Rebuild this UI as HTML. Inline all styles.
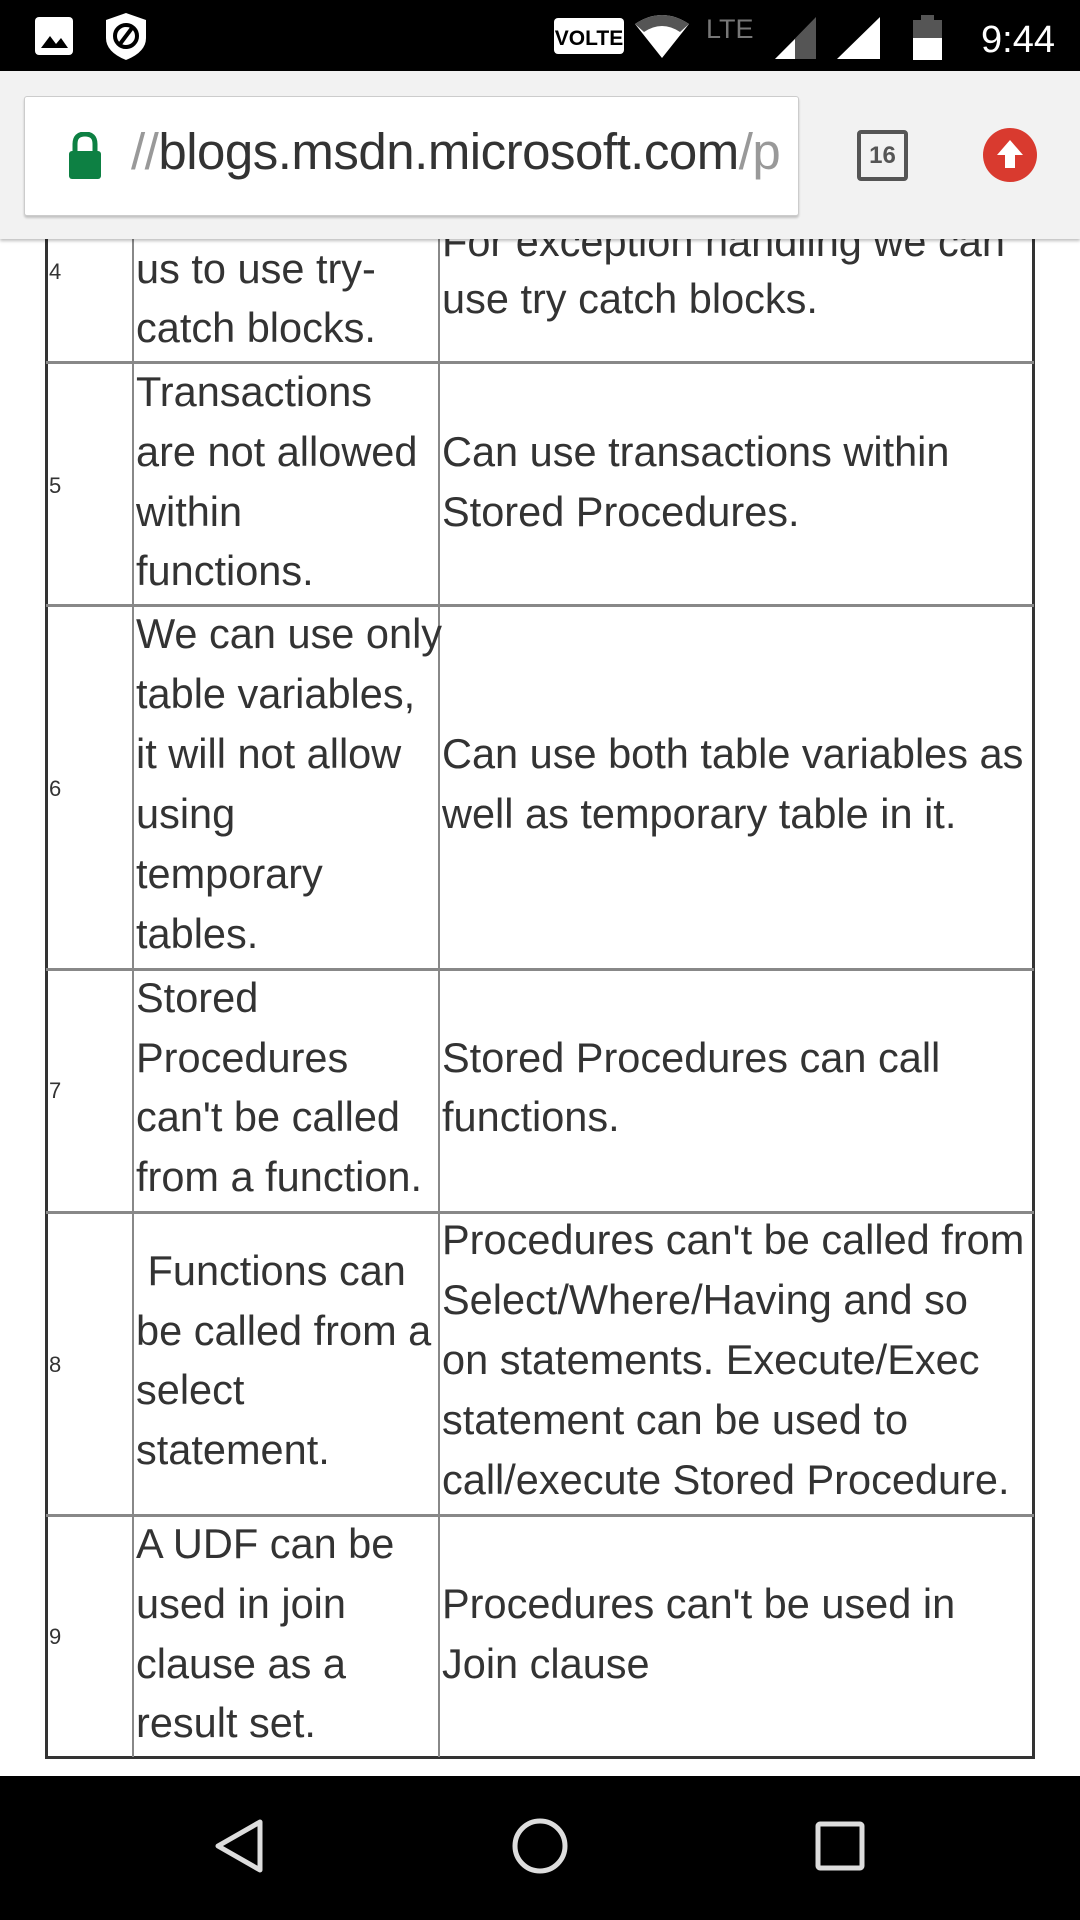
<!DOCTYPE html>
<html><head><meta charset="utf-8"><style>
*{margin:0;padding:0;box-sizing:border-box}
body{width:1080px;height:1920px;background:#fff;position:relative;overflow:hidden;font-family:"Liberation Sans",sans-serif;color:#333}
.l{position:absolute;height:60px;line-height:60px;font-size:41.5px;white-space:nowrap}
.n{position:absolute;font-size:22px;color:#333;height:30px;line-height:30px}
.h{position:absolute;background:#888;height:3px;left:46px;width:988px}
.v{position:absolute;background:#888;width:2px}
</style></head><body>
<div style="position:absolute;left:45px;top:150px;width:990px;height:1609px;border:3px solid #333;border-top:none"></div>
<div class="v" style="left:132px;top:150px;height:1607px"></div>
<div class="v" style="left:438px;top:150px;height:1607px"></div>
<div class="h" style="top:361px"></div>
<div class="h" style="top:604px"></div>
<div class="h" style="top:968px"></div>
<div class="h" style="top:1211px"></div>
<div class="h" style="top:1514px"></div>

<div class="n" style="left:49px;top:257px">4</div>
<div class="l" style="left:136px;top:181px">not allow</div>
<div class="l" style="left:136px;top:239px">us to use try-</div>
<div class="l" style="left:136px;top:298px">catch blocks.</div>
<div class="l" style="left:442px;top:212px">For exception handling we can</div>
<div class="l" style="left:442px;top:269px">use try catch blocks.</div>

<div class="n" style="left:49px;top:471px">5</div>
<div class="l" style="left:136px;top:362px">Transactions</div>
<div class="l" style="left:136px;top:422px">are not allowed</div>
<div class="l" style="left:136px;top:482px">within</div>
<div class="l" style="left:136px;top:541px">functions.</div>
<div class="l" style="left:442px;top:422px">Can use transactions within</div>
<div class="l" style="left:442px;top:482px">Stored Procedures.</div>

<div class="n" style="left:49px;top:774px">6</div>
<div class="l" style="left:136px;top:604px">We can use only</div>
<div class="l" style="left:136px;top:664px">table variables,</div>
<div class="l" style="left:136px;top:724px">it will not allow</div>
<div class="l" style="left:136px;top:784px">using</div>
<div class="l" style="left:136px;top:844px">temporary</div>
<div class="l" style="left:136px;top:904px">tables.</div>
<div class="l" style="left:442px;top:724px">Can use both table variables as</div>
<div class="l" style="left:442px;top:784px">well as temporary table in it.</div>

<div class="n" style="left:49px;top:1076px">7</div>
<div class="l" style="left:136px;top:968px">Stored</div>
<div class="l" style="left:136px;top:1028px">Procedures</div>
<div class="l" style="left:136px;top:1087px">can't be called</div>
<div class="l" style="left:136px;top:1147px">from a function.</div>
<div class="l" style="left:442px;top:1028px">Stored Procedures can call</div>
<div class="l" style="left:442px;top:1087px">functions.</div>

<div class="n" style="left:49px;top:1350px">8</div>
<div class="l" style="left:136px;top:1241px">&nbsp;Functions can</div>
<div class="l" style="left:136px;top:1301px">be called from a</div>
<div class="l" style="left:136px;top:1360px">select</div>
<div class="l" style="left:136px;top:1420px">statement.</div>
<div class="l" style="left:442px;top:1210px">Procedures can't be called from</div>
<div class="l" style="left:442px;top:1270px">Select/Where/Having and so</div>
<div class="l" style="left:442px;top:1330px">on statements. Execute/Exec</div>
<div class="l" style="left:442px;top:1390px">statement can be used to</div>
<div class="l" style="left:442px;top:1450px">call/execute Stored Procedure.</div>

<div class="n" style="left:49px;top:1622px">9</div>
<div class="l" style="left:136px;top:1514px">A UDF can be</div>
<div class="l" style="left:136px;top:1574px">used in join</div>
<div class="l" style="left:136px;top:1634px">clause as a</div>
<div class="l" style="left:136px;top:1693px">result set.</div>
<div class="l" style="left:442px;top:1574px">Procedures can't be used in</div>
<div class="l" style="left:442px;top:1634px">Join clause</div>

<div style="position:absolute;left:0;top:0;width:1080px;height:71px;background:#000"></div>
<svg style="position:absolute;left:0;top:0" width="1080" height="71">
<rect x="35" y="17" width="38" height="38" rx="4" fill="#fff"/>
<path d="M41 48 L50 36 L56 44 L61 38 L68 48Z" fill="#000"/>
<path d="M126 13 L146 20 L146 38 Q146 52 126 60 Q106 52 106 38 L106 20Z" fill="#fff"/>
<circle cx="126" cy="36" r="11" fill="none" stroke="#000" stroke-width="4"/>
<line x1="120" y1="44" x2="132" y2="28" stroke="#000" stroke-width="4"/>
<rect x="554" y="18" width="70" height="36" rx="4" fill="#fff"/>
<text x="589" y="45" font-family="Liberation Sans" font-weight="bold" font-size="21" text-anchor="middle" fill="#000">VOLTE</text>
<path d="M635 24 Q662 6 689 24 L662 58Z" fill="#fff"/>
<path d="M635 24 Q662 6 689 24 L680 32 Q662 20 644 32Z" fill="#555"/>
<text x="706" y="38" font-family="Liberation Sans" font-size="27" fill="#777">LTE</text>
<path d="M775 59 L816 17 L816 59Z" fill="#555"/><path d="M775 59 L795 39 L795 59Z" fill="#fff"/>
<path d="M837 59 L880 17 L880 59Z" fill="#fff"/>
<rect x="913" y="20" width="29" height="40" fill="#555"/><rect x="913" y="38" width="29" height="22" fill="#fff"/><rect x="921" y="15" width="13" height="6" fill="#555"/>
<text x="1055" y="52" font-family="Liberation Sans" font-size="38" text-anchor="end" fill="#fff">9:44</text>
</svg>
<div style="position:absolute;left:0;top:71px;width:1080px;height:168px;background:#f2f2f2;box-shadow:0 2px 3px rgba(0,0,0,.25)"></div>
<div style="position:absolute;left:24px;top:96px;width:775px;height:120px;background:#fff;border:1px solid #ccc;border-radius:3px;box-shadow:0 2px 2px rgba(0,0,0,.2);overflow:hidden">
<svg style="position:absolute;left:40px;top:35px" width="40" height="50"><path d="M10 20 V12 Q10 2 20 2 Q30 2 30 12 V20" fill="none" stroke="#0d8043" stroke-width="5"/><rect x="4" y="19" width="32" height="28" rx="3" fill="#0d8043"/></svg>
<div style="position:absolute;left:106px;top:25px;width:667px;overflow:hidden;font-size:51px;line-height:60px;color:#333;white-space:nowrap;letter-spacing:-0.5px"><span style="color:#999">//</span>blogs.msdn.microsoft.com<span style="color:#999">/p</span></div>
</div>
<div style="position:absolute;left:857px;top:130px;width:51px;height:51px;border:4px solid #555;border-radius:4px;font:bold 24px 'Liberation Sans';color:#555;text-align:center;line-height:43px">16</div>
<div style="position:absolute;left:983px;top:128px;width:54px;height:54px;border-radius:50%;background:#d93a2f"></div>
<svg style="position:absolute;left:983px;top:128px" width="54" height="54"><path d="M27 12 L40 27 L32 27 L32 40 L22 40 L22 27 L14 27Z" fill="#fff"/></svg>
<div style="position:absolute;left:0;top:1776px;width:1080px;height:144px;background:#000"></div>
<svg style="position:absolute;left:0;top:1776px" width="1080" height="144">
<path d="M260 46 L260 94 L218 70Z" fill="none" stroke="#ddd" stroke-width="5" stroke-linejoin="round"/>
<circle cx="540" cy="70" r="25" fill="none" stroke="#ddd" stroke-width="5"/>
<rect x="818" y="48" width="44" height="44" rx="2" fill="none" stroke="#ddd" stroke-width="5"/>
</svg>
</body></html>
